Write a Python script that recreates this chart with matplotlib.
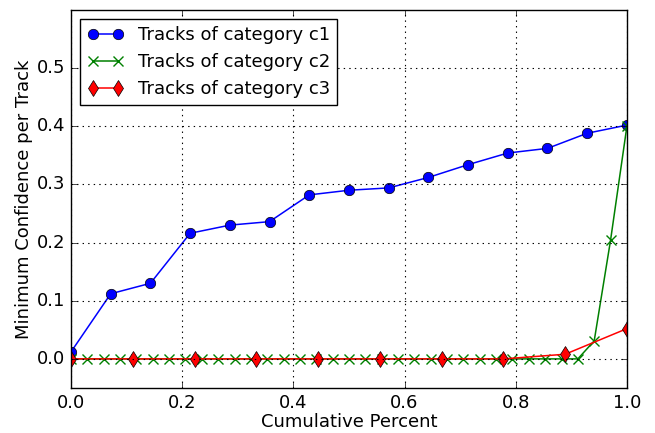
import numpy as np
import matplotlib
matplotlib.use("Agg")
import matplotlib.pyplot as plt

plt.style.use('classic')

# Data
c1_y = [0.012, 0.112, 0.130, 0.216, 0.230, 0.236, 0.282, 0.290, 0.294, 0.312,
        0.334, 0.354, 0.362, 0.388, 0.402]
c2_y = [0.0] * 32 + [0.031, 0.204, 0.400]
c3_y = [0.0, 0.0, 0.0, 0.0, 0.0, 0.0, 0.0, 0.0, 0.008, 0.052]

c1_x = np.linspace(0, 1, len(c1_y))
c2_x = np.linspace(0, 1, len(c2_y))
c3_x = np.linspace(0, 1, len(c3_y))

labels = ["Tracks of category c1", "Tracks of category c2", "Tracks of category c3"]
xticks = [0.0, 0.2, 0.4, 0.6, 0.8, 1.0]
yticks = [0.0, 0.1, 0.2, 0.3, 0.4, 0.5]

fs = 13
fig = plt.figure(figsize=(6.55, 4.33), dpi=100, facecolor='white')
ax = fig.add_axes([0.1084, 0.104, 0.8487, 0.873])

ax.plot(c1_x, c1_y, 'b-o', markersize=7.5, linewidth=1.1, label=labels[0])
ax.plot(c2_x, c2_y, 'g-x', markersize=7, markeredgewidth=1, linewidth=1.1, label=labels[1])
ax.plot(c3_x, c3_y, 'r-d', markersize=8.5, linewidth=1.1, label=labels[2])

ax.set_xlim(0, 1)
ax.set_ylim(-0.05, 0.6)
ax.set_xticks(xticks)
ax.set_yticks(yticks)
ax.tick_params(labelsize=fs)
ax.grid(True, linestyle=(0, (1, 3)), linewidth=0.8)
ax.set_xlabel("Cumulative Percent", fontsize=fs, labelpad=1)
ax.set_ylabel("Minimum Confidence per Track", fontsize=fs, labelpad=3)
ax.legend(loc='upper left', fontsize=fs, numpoints=2, borderaxespad=0.5)

fig.savefig("out.png", dpi=100, facecolor='white')
